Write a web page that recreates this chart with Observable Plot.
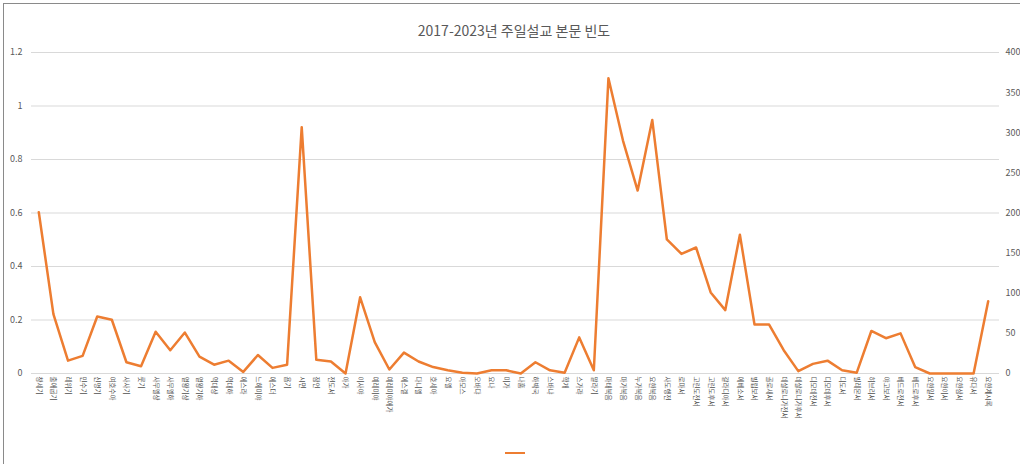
<!DOCTYPE html>
<html>
<head>
<meta charset="utf-8">
<script src="https://cdn.jsdelivr.net/npm/d3@7"></script>
<script src="https://cdn.jsdelivr.net/npm/@observablehq/plot@0.6"></script>
<style>
  html, body { margin: 0; padding: 0; background: #fff; }
  #wrap { position: relative; width: 1020px; height: 464px; overflow: hidden; font-family: "Noto Sans CJK KR", "Noto Sans", sans-serif; }
  #frame { position: absolute; left: 3px; top: 3px; width: 1100px; height: 600px; border: 1px solid #8a8a8a; box-sizing: border-box; }
  #title { position: absolute; top: 20px; left: 0; width: 1028px; text-align: center; font-size: 14px; color: #595959; }
  #chart { position: absolute; left: 0; top: 0; }
  #legend { position: absolute; left: 505px; top: 452px; width: 20px; height: 0; border-top: 2.5px solid #ED7D31; }
</style>
</head>
<body>
<div id="wrap">
  <div id="frame"></div>
  <div id="chart"></div>
  <div id="title">2017-2023년 주일설교 본문 빈도</div>
  <div id="legend"></div>
</div>
<script>
const books = ["창세기","출애굽기","레위기","민수기","신명기","여호수아","사사기","룻기","사무엘상","사무엘하",
  "열왕기상","열왕기하","역대상","역대하","에스라","느헤미야","에스더","욥기","시편","잠언",
  "전도서","아가","이사야","예레미야","예레미야애가","에스겔","다니엘","호세아","요엘","아모스",
  "오바댜","요나","미가","나훔","하박국","스바냐","학개","스가랴","말라기","마태복음",
  "마가복음","누가복음","요한복음","사도행전","로마서","고린도전서","고린도후서","갈라디아서","에베소서","빌립보서",
  "골로새서","데살로니가전서","데살로니가후서","디모데전서","디모데후서","디도서","빌레몬서","히브리서","야고보서","베드로전서",
  "베드로후서","요한일서","요한이서","요한삼서","유다서","요한계시록"];
const counts = [201,74,16,22,71,67,14,9,52,29,
  51,21,11,16,2,23,7,11,307,17,
  15,0,95,39,5,26,15,8,4,1,
  0,4,4,0,14,4,1,45,4,368,
  290,228,316,167,149,157,101,79,173,61,
  61,29,3,12,16,4,1,53,44,50,
  8,0,0,0,0,90];
const leftTickLabels = [0, 0.2, 0.4, 0.6, 0.8, 1, 1.2];
const rightTicks = [0, 50, 100, 150, 200, 250, 300, 350, 400];
const leftMax = 1.2, rightMax = 400;

const data = books.map((b, i) => ({book: b, count: counts[i]}));
const gridVals = leftTickLabels.map(v => v * rightMax / leftMax);

const chart = Plot.plot({
  width: 1020,
  height: 464,
  marginTop: 52,
  marginBottom: 91,
  marginLeft: 31,
  marginRight: 25,
  style: {fontFamily: "'Noto Sans CJK KR', 'Noto Sans', sans-serif", color: "#595959", background: "transparent"},
  x: {type: "point", domain: books, padding: 0.5},
  y: {domain: [0, rightMax]},
  marks: [
    Plot.ruleY(gridVals, {stroke: "#d9d9d9", strokeWidth: 1, insetRight: -4}),
    Plot.axisY(gridVals, {anchor: "left", tickSize: 0, tickPadding: 9, fontSize: 9, label: null,
      tickFormat: d => String(+(d * leftMax / rightMax).toFixed(1))}),
    Plot.axisY(rightTicks, {anchor: "right", tickSize: 0, tickPadding: 10, fontSize: 9, label: null}),
    Plot.axisX({tickRotate: 90, tickSize: 0, tickPadding: 3, fontSize: 6.5, label: null, fill: "#505050"}),
    Plot.lineY(data, {x: "book", y: "count", stroke: "#ED7D31", strokeWidth: 2.5})
  ]
});
document.getElementById("chart").appendChild(chart);
</script>
</body>
</html>
